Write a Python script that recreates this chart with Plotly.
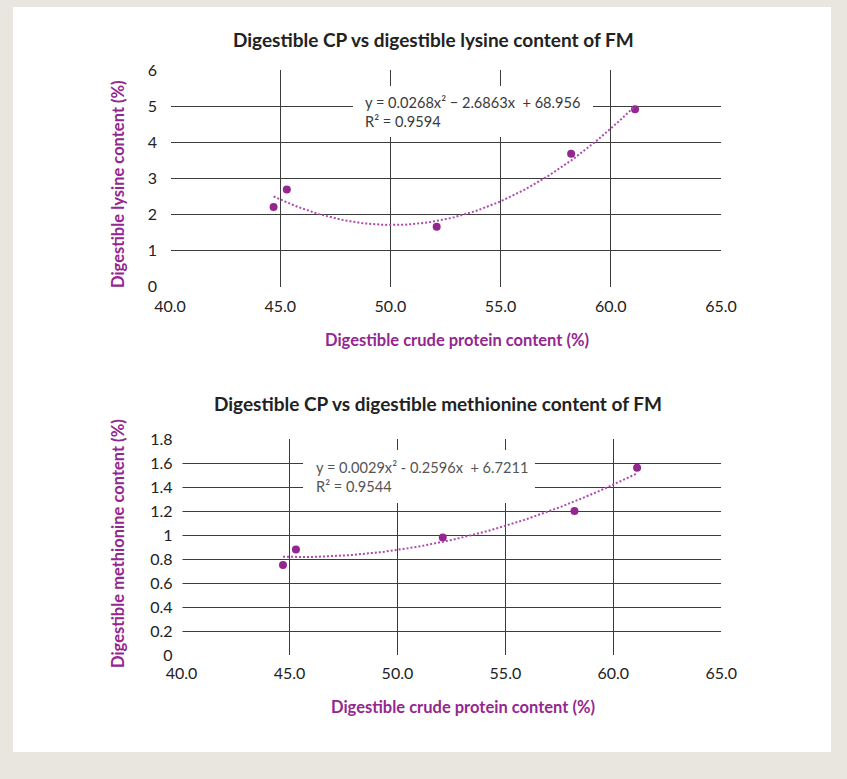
import numpy as np
import plotly.graph_objects as go

# ---- data ----
cp_content = [44.7, 45.3, 52.1, 58.2, 61.1]
lysine = [2.21, 2.69, 1.66, 3.68, 4.91]
methionine = [0.75, 0.88, 0.98, 1.20, 1.56]

x_ticks = [40, 45, 50, 55, 60, 65]
lys_ticks = [0, 1, 2, 3, 4, 5, 6]
met_ticks = [0, 0.2, 0.4, 0.6, 0.8, 1, 1.2, 1.4, 1.6, 1.8]

title_top = "Digestible CP vs digestible lysine content of FM"
title_bot = "Digestible CP vs digestible methionine content of FM"
xlab = "Digestible crude protein content (%)"
ylab_top = "Digestible lysine content (%)"
ylab_bot = "Digestible methionine content (%)"
eq_top = "y = 0.0268x² − 2.6863x \u00a0+ 68.956<br>R² = 0.9594"
eq_bot = "y = 0.0029x² - 0.2596x \u00a0+ 6.7211<br>R² = 0.9544"

W, H = 847, 779
BEIGE = "#e9e5df"
PURPLE = "#93278f"
TREND = "#b049ae"
GRID = "#3c3c3c"
FONT = "Lato"


def px(x):
    return x / W


def py(y):
    return 1 - y / H


def trend(xs, ys):
    c = np.polyfit(xs, ys, 2)
    xx = np.linspace(min(xs), max(xs), 120)
    return xx, np.polyval(c, xx)


fig = go.Figure()

fig.add_trace(go.Scatter(x=cp_content, y=lysine, mode="markers",
                         marker=dict(color=PURPLE, size=8), xaxis="x", yaxis="y",
                         showlegend=False))
tx, ty = trend(cp_content, lysine)
fig.add_trace(go.Scatter(x=tx, y=ty, mode="lines",
                         line=dict(color=TREND, width=2, dash="2px,2px"),
                         xaxis="x", yaxis="y", showlegend=False))
fig.add_trace(go.Scatter(x=cp_content, y=methionine, mode="markers",
                         marker=dict(color=PURPLE, size=8), xaxis="x2", yaxis="y2",
                         showlegend=False))
bx, by = trend(cp_content, methionine)
fig.add_trace(go.Scatter(x=bx, y=by, mode="lines",
                         line=dict(color=TREND, width=2, dash="2px,2px"),
                         xaxis="x2", yaxis="y2", showlegend=False))

axis_common = dict(showgrid=True, gridcolor=GRID, gridwidth=1, zeroline=False,
                   showline=False, ticks="", tickfont=dict(family=FONT, size=16, color="#222"),
                   fixedrange=True)

fig.update_layout(
    width=W, height=H,
    margin=dict(l=0, r=0, t=0, b=0, autoexpand=False),
    paper_bgcolor=BEIGE,
    plot_bgcolor="rgba(0,0,0,0)",
    font=dict(family=FONT, color="#222"),
    xaxis=dict(domain=[px(170), px(721)], range=[40, 65], tickvals=x_ticks,
               ticktext=[f"{v:.1f}" for v in x_ticks], anchor="y", ticklabelstandoff=8,
               **axis_common),
    yaxis=dict(domain=[py(286.7), py(70)], range=[0, 6], tickvals=lys_ticks,
               ticktext=[str(v) for v in lys_ticks], anchor="x", ticklabelstandoff=12,
               **axis_common),
    xaxis2=dict(domain=[px(181.5), px(721.3)], range=[40, 65], tickvals=x_ticks,
                ticktext=[f"{v:.1f}" for v in x_ticks], anchor="y2", ticklabelstandoff=7,
                **axis_common),
    yaxis2=dict(domain=[py(655), py(439)], range=[0, 1.8], tickvals=met_ticks,
                ticktext=[f"{v:g}" for v in met_ticks], anchor="x2", ticklabelstandoff=8,
                **axis_common),
)

shapes = [
    dict(type="rect", xref="paper", yref="paper", x0=px(13), x1=px(831), y0=py(752), y1=py(7),
         fillcolor="white", line=dict(width=0), layer="below"),
    # equation boxes (above grid, below traces)
    dict(type="rect", xref="x", yref="y", x0=48.3, x1=59.19, y0=4.145, y1=5.557,
         fillcolor="white", line=dict(width=0), layer="between"),
    dict(type="rect", xref="x2", yref="y2", x0=45.63, x1=56.37, y0=1.267, y1=1.708,
         fillcolor="white", line=dict(width=0), layer="between"),
    # hide gridline at left edge (40)
    dict(type="line", xref="x", yref="y", x0=40, x1=40, y0=-0.02, y1=6.02,
         line=dict(color="white", width=2), layer="between"),
    dict(type="line", xref="x2", yref="y2", x0=40, x1=40, y0=-0.01, y1=1.81,
         line=dict(color="white", width=2), layer="between"),
]
fig.update_layout(shapes=shapes)

ann = [
    dict(text=f"<b>{title_top}</b>", x=px(433), y=py(40), font=dict(size=19, color="#222")),
    dict(text=f"<b>{title_bot}</b>", x=px(438), y=py(403), font=dict(size=19, color="#222")),
    dict(text=f"<b>{xlab}</b>", x=px(457), y=py(340), font=dict(size=16.5, color=PURPLE)),
    dict(text=f"<b>{xlab}</b>", x=px(463), y=py(707), font=dict(size=16.5, color=PURPLE)),
    dict(text=f"<b>{ylab_top}</b>", x=px(118), y=py(184), textangle=-90,
         font=dict(size=16.5, color=PURPLE)),
    dict(text=f"<b>{ylab_bot}</b>", x=px(118), y=py(544), textangle=-90,
         font=dict(size=16.5, color=PURPLE)),
    dict(text=eq_top, x=px(363), y=py(111.7), xanchor="left", align="left",
         font=dict(size=14.6, color="#3a3a3a")),
    dict(text=eq_bot, x=px(314), y=py(477), xanchor="left", align="left",
         font=dict(size=14.6, color="#555")),
]
for a in ann:
    a.setdefault("xanchor", "center")
    a.update(xref="paper", yref="paper", yanchor="middle", showarrow=False)
    a["font"]["family"] = FONT
fig.update_layout(annotations=ann)

fig.write_html(
    "out.html",
    config={"displayModeBar": False},
    post_script=f"document.body.style.margin='0';document.body.style.background='{BEIGE}';",
)
